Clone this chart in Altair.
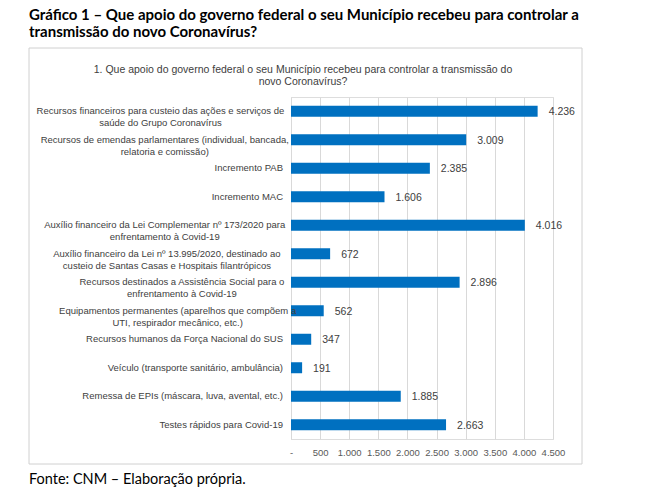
import altair as alt
import pandas as pd

categories = [
    "Recursos financeiros para custeio das ações e serviços de\nsaúde do Grupo Coronavírus",
    "Recursos de emendas parlamentares (individual, bancada,\nrelatoria e comissão)",
    "Incremento PAB",
    "Incremento MAC",
    "Auxílio financeiro da Lei Complementar nº 173/2020 para\nenfrentamento à Covid-19",
    "Auxílio financeiro da Lei nº 13.995/2020, destinado ao\ncusteio de Santas Casas e Hospitais filantrópicos",
    "Recursos destinados a Assistência Social para o\nenfrentamento à Covid-19",
    "Equipamentos permanentes (aparelhos que compõem a\nUTI, respirador mecânico, etc.)",
    "Recursos humanos da Força Nacional do SUS",
    "Veículo (transporte sanitário, ambulância)",
    "Remessa de EPIs (máscara, luva, avental, etc.)",
    "Testes rápidos para Covid-19",
]
values = [4236, 3009, 2385, 1606, 4016, 672, 2896, 562, 347, 191, 1885, 2663]
x_ticks = [0, 500, 1000, 1500, 2000, 2500, 3000, 3500, 4000, 4500]

outer_title = [
    "Gráfico 1 – Que apoio do governo federal o seu Município recebeu para controlar a",
    "transmissão do novo Coronavírus?",
]
inner_title = [
    "1. Que apoio do governo federal o seu Município recebeu para controlar a transmissão  do",
    "novo Coronavírus?",
]
footer = "Fonte: CNM – Elaboração própria."

df = pd.DataFrame({"label": categories, "value": values})

W, H = 262, 342
BLUE = "#0070C0"
GRID = "#d9d9d9"
LABEL_FONT = "Liberation Sans"
TITLE_FONT = "Lato"

yscale = alt.Scale(domain=categories, paddingInner=0, paddingOuter=0)

x_axis = alt.Axis(
    values=x_ticks,
    title=None,
    grid=True,
    gridColor=GRID,
    domain=False,
    ticks=False,
    labelFont=LABEL_FONT,
    labelFontSize=9.5,
    labelColor="#595959",
    labelPadding=8,
    labelOverlap=False,
    labelFlush=False,
    labelExpr="datum.value == 0 ? '-' : replace(format(datum.value, ','), ',', '.')",
)
y_axis = alt.Axis(
    labels=False, ticks=False, title=None, grid=False, domainColor=GRID,
)
x_scale = alt.Scale(domain=[0, 4500], nice=False)

base = alt.Chart(df)

box = alt.Chart(pd.DataFrame({"k": [0]})).mark_rect(
    fillOpacity=0, stroke="#d0d0d0", strokeWidth=1
).encode(
    x=alt.value(-262), x2=alt.value(291), y=alt.value(-49), y2=alt.value(367)
)

bars = base.mark_bar(size=11, color=BLUE).encode(
    x=alt.X("value:Q", scale=x_scale, axis=x_axis),
    y=alt.Y("label:N", scale=yscale, sort=categories, axis=y_axis),
)

value_labels = base.transform_calculate(
    vl="replace(format(datum.value, ','), ',', '.')"
).mark_text(
    align="left", baseline="middle", dx=11, dy=1,
    font=LABEL_FONT, fontSize=10.5, color="#404040",
).encode(
    x=alt.X("value:Q", scale=x_scale, axis=x_axis),
    y=alt.Y("label:N", scale=yscale, sort=categories, axis=y_axis),
    text="vl:N",
)

single_labels = base.transform_filter(
    "indexof(datum.label, '\\n') < 0"
).mark_text(
    align="right", baseline="middle", font=LABEL_FONT, fontSize=9.5,
    color="#404040",
).encode(
    x=alt.value(-8),
    y=alt.Y("label:N", scale=yscale, sort=categories, axis=y_axis),
    text="label:N",
)

double_labels = base.transform_filter(
    "indexof(datum.label, '\\n') >= 0"
).transform_calculate(
    l1="split(datum.label, '\\n')[0]",
).transform_calculate(
    lx="-8 - length(datum.l1) * 2.15",
).mark_text(
    align="center", baseline="middle", font=LABEL_FONT, fontSize=9.5,
    color="#404040", lineBreak="\n", lineHeight=12,
).encode(
    x=alt.X("lx:Q", scale=None, axis=None),
    y=alt.Y("label:N", scale=yscale, sort=categories, axis=y_axis),
    text="label:N",
)

title_df = pd.DataFrame({"k": [0]})
outer_t1 = alt.Chart(title_df).mark_text(
    align="left", baseline="alphabetic", font=TITLE_FONT, fontSize=15,
    fontWeight="bold", color="#000000", text=outer_title[0],
).encode(x=alt.value(-262), y=alt.value(-77))
outer_t2 = alt.Chart(title_df).mark_text(
    align="left", baseline="alphabetic", font=TITLE_FONT, fontSize=15,
    fontWeight="bold", color="#000000", text=outer_title[1],
).encode(x=alt.value(-262), y=alt.value(-60))
inner_t = alt.Chart(title_df).mark_text(
    align="center", baseline="middle", font=LABEL_FONT, fontSize=10.5,
    color="#404040", text=inner_title, lineHeight=12,
).encode(x=alt.value(12), y=alt.value(-27))
foot = alt.Chart(title_df).mark_text(
    align="left", baseline="alphabetic", font=TITLE_FONT, fontSize=14.5,
    color="#000000", text=footer,
).encode(x=alt.value(-262), y=alt.value(387))

main = alt.layer(
    box, bars, value_labels, single_labels,
    outer_t1, outer_t2, inner_t, foot,
)

chart = alt.layer(main, double_labels).resolve_scale(x="independent").properties(
    width=W, height=H,
    autosize=alt.AutoSizeParams(type="none"),
    padding={"left": 283, "top": 89, "right": 98, "bottom": 53},
).configure_view(strokeWidth=0).configure_axisX(
    labelOverlap=False
).configure(background="white")

chart.save("out.html", embed_options={"renderer": "svg", "actions": False})
